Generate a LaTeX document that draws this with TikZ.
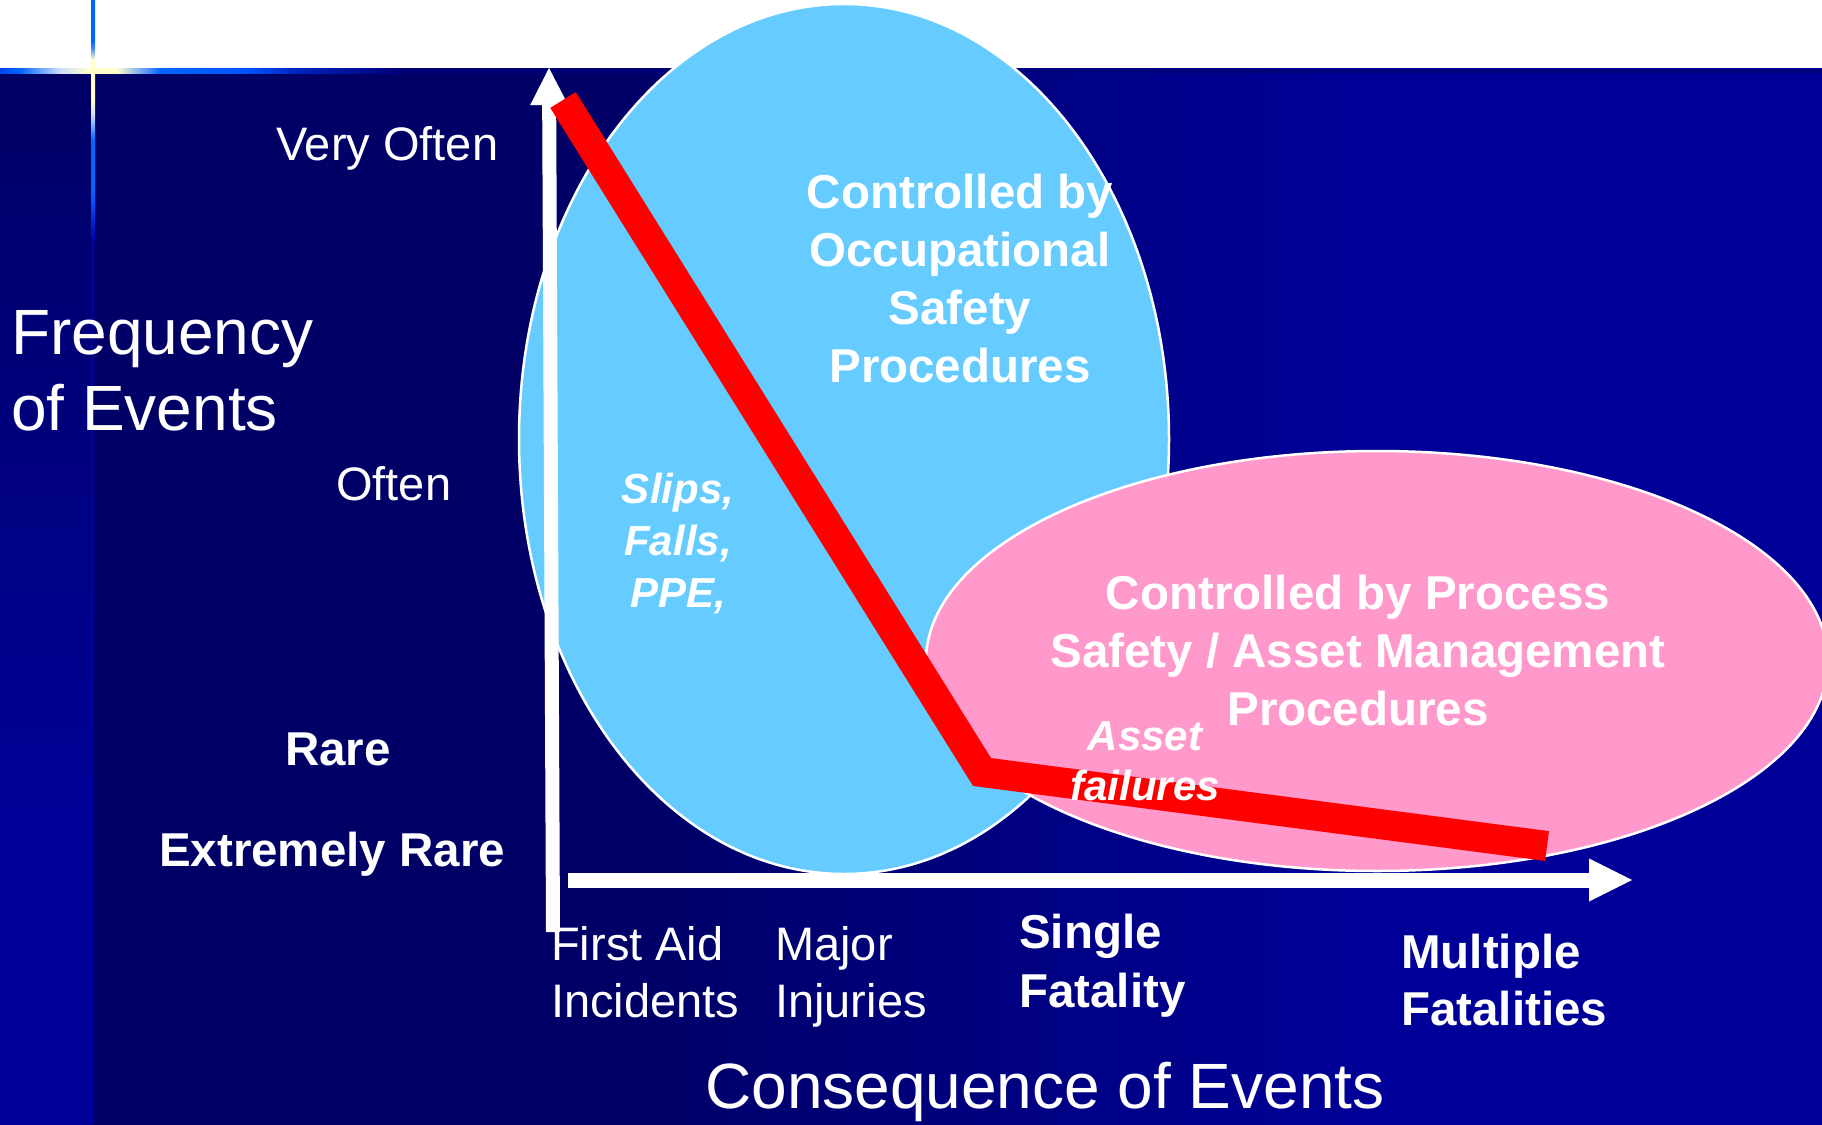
\documentclass[tikz,border=0pt]{standalone}
\usepackage{fontspec}
\setmainfont{Liberation Sans}
\usetikzlibrary{arrows.meta}
\definecolor{bgdark}{HTML}{000066}
\definecolor{bglight}{HTML}{000099}
\definecolor{lineblue}{HTML}{0066FF}
\definecolor{linedeep}{HTML}{0044EE}
\definecolor{linemid}{HTML}{0055FF}
\definecolor{linefade}{HTML}{0022BB}
\definecolor{linedark}{HTML}{00007A}
\definecolor{linefaint}{HTML}{0000AA}
\definecolor{glow}{HTML}{FFFFCC}
\definecolor{glowb}{HTML}{CCDDFF}
\definecolor{glowc}{HTML}{4488FF}
\definecolor{occblue}{HTML}{66CCFF}
\definecolor{procpink}{HTML}{FF99CC}
\definecolor{riskred}{HTML}{FF0000}
\pgfdeclarehorizontalshading{bgmain}{100bp}{color(0bp)=(bgdark); color(40bp)=(bgdark); color(62.5bp)=(bglight); color(100bp)=(bglight)}
\pgfdeclareverticalshading{bgleft}{100bp}{color(0bp)=(bglight); color(37.5bp)=(bglight); color(75bp)=(bgdark); color(100bp)=(bgdark)}
\pgfdeclarehorizontalshading{hglow}{100bp}{color(0bp)=(linedeep); color(25bp)=(linedeep); color(27.5bp)=(lineblue); color(32.5bp)=(glowb); color(36bp)=(glow); color(39.6bp)=(glow); color(43.75bp)=(glowc); color(45bp)=(lineblue); color(55.6bp)=(linemid); color(62.5bp)=(linefade); color(75bp)=(linedark); color(100bp)=(linedark)}
\pgfdeclareverticalshading{vglowtop}{100bp}{color(0bp)=(glow); color(25bp)=(glow); color(32bp)=(glow); color(40bp)=(glowc); color(45bp)=(lineblue); color(100bp)=(lineblue)}
\pgfdeclareverticalshading{vglowlow}{100bp}{color(0bp)=(linefaint); color(25bp)=(linefaint); color(36.7bp)=(linemid); color(39.6bp)=(lineblue); color(54.2bp)=(lineblue); color(61.5bp)=(glowb); color(66bp)=(glow); color(100bp)=(glow)}
\tikzset{
  reg/.style={text=white, inner sep=0pt, font=\fontsize{47}{57}\selectfont},
  boldlbl/.style={text=white, inner sep=0pt, font=\fontsize{47.5}{58}\selectfont\bfseries},
  itlbl/.style={text=white, inner sep=0pt, font=\fontsize{42}{51}\selectfont\bfseries\itshape},
  biglbl/.style={text=white, inner sep=0pt, font=\fontsize{64}{76}\selectfont},
  axisline/.style={draw=white, line width=14pt, -{Triangle[length=37pt,width=38pt,line width=0pt]}},
  axislineh/.style={draw=white, line width=15pt, -{Triangle[length=43pt,width=43pt,line width=0pt]}},
  riskline/.style={draw=riskred, line width=30pt, line join=miter},
  zoneoutline/.style={draw=white, line width=2.5pt}
}
\begin{document}
\begin{tikzpicture}[x=1pt,y=-1pt]
\useasboundingbox (0,0) rectangle (1822,1124);
% background
\fill[white] (0,0) rectangle (1822,69);
\shade[shading=bgmain] (92,69) rectangle (1822,1124);
\shade[shading=bgleft] (0,69) rectangle (92,1124);
% decorative lines
\fill[linefaint] (91,240) rectangle (94,1124);
\shade[shading=hglow] (0,69) rectangle (400,73);
\fill[linedark] (400,69) rectangle (1822,73);
\shade[shading=vglowtop] (91,0) rectangle (95,69);
\shade[shading=vglowlow] (91,69) rectangle (95,240);
% zones
\path[zoneoutline, fill=occblue] (844,439) ellipse [x radius=325pt, y radius=435pt];
\path[zoneoutline, fill=procpink] (1377,661) ellipse [x radius=451pt, y radius=210pt];
% axes
\coordinate (ybot) at (553,932);
\coordinate (ytop) at (549,68);
\coordinate (xleft) at (568,880);
\coordinate (xright) at (1632,880);
\draw[axisline] (ybot) -- (ytop);
\draw[axislineh] (xleft) -- (xright);
% risk curve
\coordinate (r1) at (563,100);
\coordinate (r2) at (982,772);
\coordinate (r3) at (1547,846);
\draw[riskline] (r1) -- (r2) -- (r3);
% labels (multi-line nodes: base = baseline of last line)
\node[reg, anchor=base west] (veryoften) at (276,160) {Very Often};
\node[reg, anchor=base west] (often) at (336,500) {Often};
\node[boldlbl, anchor=base west] (rare) at (285,765) {Rare};
\node[boldlbl, anchor=base west] (xrare) at (159,866) {Extremely Rare};
\node[biglbl, anchor=base west, align=left] (freq) at (11,430) {Frequency\\of Events};
\node[reg, anchor=base west, align=left] (firstaid) at (551,1017) {First Aid\\Incidents};
\node[reg, anchor=base west, align=left] (major) at (775,1017) {Major\\Injuries};
\node[boldlbl, anchor=base west, align=left, font=\fontsize{47.5}{59}\selectfont\bfseries] (single) at (1019,1007) {Single\\Fatality};
\node[boldlbl, anchor=base west, align=left, font=\fontsize{47.5}{57}\selectfont\bfseries] (multi) at (1401,1025) {Multiple\\Fatalities};
\node[biglbl, anchor=base west] (conseq) at (705,1108) {Consequence of Events};
\node[boldlbl, anchor=base, align=center] (occ) at (960,382) {Controlled by\\Occupational\\Safety\\Procedures};
\node[boldlbl, anchor=base, align=center] (proc) at (1358,725) {Controlled by Process\\Safety / Asset Management\\Procedures};
\node[itlbl, anchor=base, align=center, font=\fontsize{42}{52}\selectfont\bfseries\itshape] (slips) at (678,607) {Slips,\\Falls,\\PPE,};
\node[itlbl, anchor=base, align=center, font=\fontsize{42}{50}\selectfont\bfseries\itshape] (asset) at (1145,800) {Asset\\failures};
\end{tikzpicture}
\end{document}
